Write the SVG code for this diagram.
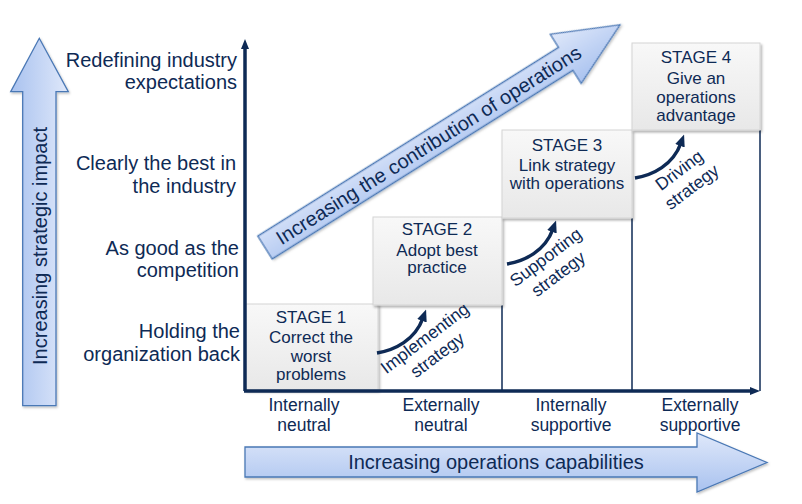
<svg xmlns="http://www.w3.org/2000/svg" width="802" height="504" viewBox="0 0 802 504">
<defs>
<style>
text{font-family:"Liberation Sans",Arial,sans-serif;fill:#0e2a55;}
.lbl{font-size:20px;text-anchor:end;}
.stg{font-size:17px;text-anchor:middle;}
.rot{font-size:17.5px;text-anchor:middle;}
.col{font-size:17.5px;text-anchor:middle;}
.big{font-size:20px;text-anchor:middle;}
.box{fill:url(#boxg);stroke:#d4d4d4;stroke-width:1;filter:url(#sh);}
.arr{stroke:#4a78b5;stroke-width:1.3;filter:url(#sh2);}
.axis{stroke:#0e2a55;stroke-width:3.5;fill:none;}
.grid{stroke:#0e2a55;stroke-width:1.5;fill:none;}
.curve{stroke:#0e2a55;stroke-width:3.5;fill:none;marker-end:url(#ch);}
</style>
<linearGradient id="boxg" x1="0" y1="0" x2="0" y2="1">
<stop offset="0" stop-color="#f8f8f8"/>
<stop offset="1" stop-color="#e8e8e8"/>
</linearGradient>
<linearGradient id="hg" x1="0" y1="0" x2="1" y2="0">
<stop offset="0" stop-color="#a9c2ef"/>
<stop offset="1" stop-color="#dfe8fa"/>
</linearGradient>
<linearGradient id="vg" x1="0" y1="0" x2="0" y2="1">
<stop offset="0" stop-color="#dfe8fa"/>
<stop offset="1" stop-color="#a9c2ef"/>
</linearGradient>
<filter id="sh" x="-10%" y="-10%" width="130%" height="130%">
<feDropShadow dx="1.5" dy="2" stdDeviation="1.2" flood-color="#000" flood-opacity="0.3"/>
</filter>
<filter id="sh2" x="-10%" y="-10%" width="130%" height="130%">
<feDropShadow dx="1" dy="1.5" stdDeviation="1.2" flood-color="#000" flood-opacity="0.25"/>
</filter>
<marker id="ah" markerWidth="10" markerHeight="10" refX="2" refY="5" orient="auto" markerUnits="userSpaceOnUse">
<path d="M0,1 L10,5 L0,9 z" fill="#0e2a55"/>
</marker>
<marker id="ch" markerWidth="12" markerHeight="12" refX="3" refY="6" orient="auto" markerUnits="userSpaceOnUse">
<path d="M0,1 L12,6 L0,11 z" fill="#0e2a55"/>
</marker>
</defs>

<g id="impact-arrow">
<path class="arr" fill="url(#hg)" d="M22.7,405.7 L22.7,91.7 L10.7,91.7 L39.3,38.3 L68.3,91.7 L56,91.7 L56,405.7 Z"/>
<text class="big" transform="rotate(-90 47 246)" x="47" y="246">Increasing strategic impact</text>
</g>

<g id="capabilities-arrow">
<path class="arr" fill="url(#vg)" d="M245,447 L697,447 L697,433 L767,462.5 L697,492 L697,477 L245,477 Z"/>
<text class="big" x="496" y="469">Increasing operations capabilities</text>
</g>

<g id="contribution-arrow" transform="translate(265 247.5) rotate(-32.1)">
<path class="arr" fill="url(#vg)" d="M0,-13.5 L355,-13.5 L355,-29 L419,0 L355,29 L355,13.5 L0,13.5 Z"/>
<text class="big" x="193" y="7">Increasing the contribution of operations</text>
</g>

<g id="level-labels">
<text class="lbl" x="237" y="67">Redefining industry</text>
<text class="lbl" x="237" y="89">expectations</text>
<text class="lbl" x="236" y="170">Clearly the best in</text>
<text class="lbl" x="236" y="193">the industry</text>
<text class="lbl" x="239" y="255">As good as the</text>
<text class="lbl" x="239" y="277">competition</text>
<text class="lbl" x="240" y="338">Holding the</text>
<text class="lbl" x="240" y="361">organization back</text>
</g>

<g id="column-labels">
<text class="col" x="304" y="411">Internally</text>
<text class="col" x="304" y="431">neutral</text>
<text class="col" x="441" y="411">Externally</text>
<text class="col" x="441" y="431">neutral</text>
<text class="col" x="571" y="411">Internally</text>
<text class="col" x="571" y="431">supportive</text>
<text class="col" x="700" y="411">Externally</text>
<text class="col" x="700" y="431">supportive</text>
</g>

<g id="grid">
<line class="grid" x1="502" y1="305" x2="502" y2="391"/>
<line class="grid" x1="632" y1="218" x2="632" y2="391"/>
<line class="grid" x1="760" y1="130" x2="760" y2="391"/>
</g>

<g id="stage1">
<rect class="box" x="245" y="304" width="133" height="86"/>
<text class="stg" x="311" y="323">STAGE 1</text>
<text class="stg" x="311" y="342.5">Correct the</text>
<text class="stg" x="311" y="361.5">worst</text>
<text class="stg" x="311" y="380">problems</text>
</g>

<g id="stage2">
<rect class="box" x="373" y="217" width="129" height="88"/>
<text class="stg" x="437" y="235">STAGE 2</text>
<text class="stg" x="437" y="255.5">Adopt best</text>
<text class="stg" x="437" y="273">practice</text>
</g>

<g id="stage3">
<rect class="box" x="502" y="130" width="130" height="88"/>
<text class="stg" x="567" y="151">STAGE 3</text>
<text class="stg" x="567" y="170.5">Link strategy</text>
<text class="stg" x="567" y="189">with operations</text>
</g>

<g id="stage4">
<rect class="box" x="632" y="43" width="128" height="87"/>
<text class="stg" x="696" y="63">STAGE 4</text>
<text class="stg" x="696" y="83.5">Give an</text>
<text class="stg" x="696" y="102.5">operations</text>
<text class="stg" x="696" y="121">advantage</text>
</g>

<g id="axes">
<line class="axis" x1="245" y1="391" x2="245" y2="47" marker-end="url(#ah)"/>
<line class="axis" x1="244" y1="391" x2="752" y2="391" marker-end="url(#ah)"/>
</g>

<g id="connectors">
<path class="curve" d="M377,353 C395,350 415,340 423,318"/>
<path class="curve" d="M507,264 C525,261 545,251 553,229"/>
<path class="curve" d="M635,178 C653,175 673,165 681,143"/>
</g>

<g id="implementing-label" transform="translate(431 346.5) rotate(-37)">
<text class="rot" x="0" y="-4.5">Implementing</text>
<text class="rot" x="0" y="16.5">strategy</text>
</g>
<g id="supporting-label" transform="translate(552 265.5) rotate(-37)">
<text class="rot" x="0" y="-4.5">Supporting</text>
<text class="rot" x="0" y="16.5">strategy</text>
</g>
<g id="driving-label" transform="translate(685.5 178.5) rotate(-37)">
<text class="rot" x="0" y="-4.5">Driving</text>
<text class="rot" x="0" y="16.5">strategy</text>
</g>
</svg>
